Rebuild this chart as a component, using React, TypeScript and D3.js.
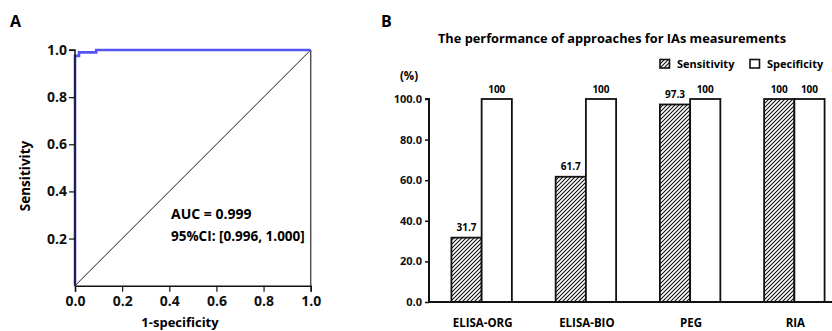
import React, { useRef, useEffect } from 'react';
import * as d3 from 'd3';

// Panel A: ROC curve (step points)
const rocFpr = [0, 0, 0.017, 0.017, 0.09, 0.09, 1];
const rocTpr = [0, 0.975, 0.975, 0.99, 0.99, 1, 1];
const rocXTicks = [0, 0.2, 0.4, 0.6, 0.8, 1.0];
const rocYTicks = [0.2, 0.4, 0.6, 0.8, 1.0];
const aucText = 'AUC = 0.999';
const ciText = '95%CI: [0.996, 1.000]';

// Panel B: performance of approaches
const methods = ['ELISA-ORG', 'ELISA-BIO', 'PEG', 'RIA'];
const sensitivity = [31.7, 61.7, 97.3, 100];
const specificity = [100, 100, 100, 100];
const barTicks = [0, 20, 40, 60, 80, 100];
const seriesNames = ['Sensitivity', 'Specificity'];

const FONT = "'Open Sans', 'DejaVu Sans', sans-serif";

const App = () => {
  const svgRef = useRef<SVGSVGElement>(null);

  useEffect(() => {
    const svg = d3.select(svgRef.current);
    svg.selectAll('*').remove();
    svg.style('font-family', FONT).style('font-weight', 700);

    // hatch pattern
    const defs = svg.append('defs');
    defs.append('pattern')
      .attr('id', 'hatch')
      .attr('patternUnits', 'userSpaceOnUse')
      .attr('width', 4)
      .attr('height', 4)
      .append('path')
      .attr('d', 'M-1,1 l2,-2 M0,4 l4,-4 M3,5 l2,-2')
      .attr('stroke', '#111')
      .attr('stroke-width', 1.1);

    // ---------- Panel A ----------
    const x = d3.scaleLinear().domain([0, 1]).range([75, 310.7]);
    const y = d3.scaleLinear().domain([0, 1]).range([285.7, 50]);

    svg.append('text').attr('x', 10).attr('y', 27).style('font-size', '16px').text('A');

    // right frame
    svg.append('line')
      .attr('x1', x(1)).attr('x2', x(1)).attr('y1', y(0)).attr('y2', y(1))
      .attr('stroke', '#555').attr('stroke-width', 1.5);

    // diagonal
    svg.append('line')
      .attr('x1', x(0)).attr('y1', y(0)).attr('x2', x(1)).attr('y2', y(1))
      .attr('stroke', '#222').attr('stroke-width', 1);

    const rocPts = rocFpr.map((f, i) => [f, rocTpr[i]] as [number, number]);
    const rocLine = d3.line<[number, number]>().x(d => x(d[0])).y(d => y(d[1]));
    svg.append('path')
      .attr('d', rocLine(rocPts))
      .attr('fill', 'none')
      .attr('stroke', '#5454f2')
      .attr('stroke-width', 2.6);

    const gxA = svg.append('g')
      .attr('transform', `translate(0,${y(0)})`)
      .call(d3.axisBottom(x).tickValues(rocXTicks).tickFormat(d3.format('.1f')).tickSize(6).tickPadding(4));
    const gyA = svg.append('g')
      .attr('transform', `translate(${x(0)},0)`)
      .call(d3.axisLeft(y).tickValues(rocYTicks).tickFormat(d3.format('.1f')).tickSize(6).tickPadding(2));
    [gxA, gyA].forEach(g => {
      g.select('.domain').attr('stroke', '#111').attr('stroke-width', 1.5);
      g.selectAll('.tick line').attr('stroke', '#111').attr('stroke-width', 1.2);
      g.selectAll('.tick text')
        .attr('fill', '#111')
        .style('font-family', FONT)
        .style('font-weight', 700)
        .style('font-size', '14px');
    });
    gyA.select('.domain').attr('d', `M-6,${y(1)}H0V${y(0)}`);

    svg.append('text')
      .attr('transform', 'translate(30,176) rotate(-90)')
      .attr('text-anchor', 'middle')
      .style('font-size', '13.5px')
      .text('Sensitivity');
    svg.append('text')
      .attr('x', 180).attr('y', 327)
      .attr('text-anchor', 'middle')
      .style('font-size', '13px')
      .text('1-specificity');

    svg.append('text').attr('x', 171).attr('y', 218.5).style('font-size', '14px').text(aucText);
    svg.append('text').attr('x', 171).attr('y', 240.7).style('font-size', '13.5px').text(ciText);

    // ---------- Panel B ----------
    svg.append('text').attr('x', 381).attr('y', 27).style('font-size', '16px').text('B');
    svg.append('text')
      .attr('x', 612).attr('y', 43.3)
      .attr('text-anchor', 'middle')
      .style('font-size', '12.8px')
      .text('The performance of approaches for IAs measurements');

    const bx = d3.scaleBand<string>().domain(methods).range([429, 847]).paddingInner(0.42).paddingOuter(0.215);
    const sub = d3.scaleBand<string>().domain(seriesNames).range([0, bx.bandwidth()]);
    const by = d3.scaleLinear().domain([0, 100]).range([302, 99]);

    const seriesValues = [sensitivity, specificity];
    const rows = methods.flatMap((m, i) =>
      seriesNames.map((s, j) => ({ m, s, v: seriesValues[j][i] }))
    );

    const bars = svg.append('g');
    bars.selectAll('rect')
      .data(rows)
      .enter().append('rect')
      .attr('x', d => (bx(d.m) as number) + (sub(d.s) as number))
      .attr('y', d => by(d.v))
      .attr('width', sub.bandwidth())
      .attr('height', d => by(0) - by(d.v))
      .attr('fill', d => (d.s === 'Sensitivity' ? 'url(#hatch)' : '#fff'))
      .attr('stroke', '#111')
      .attr('stroke-width', 1.8);

    bars.selectAll('text')
      .data(rows)
      .enter().append('text')
      .attr('x', d => (bx(d.m) as number) + (sub(d.s) as number) + sub.bandwidth() / 2)
      .attr('y', d => by(d.v) - 6.5)
      .attr('text-anchor', 'middle')
      .style('font-size', '10px')
      .text(d => String(d.v));

    const gyB = svg.append('g')
      .attr('transform', 'translate(429,0)')
      .call(d3.axisLeft(by).tickValues(barTicks).tickFormat(d3.format('.1f')).tickSize(4).tickPadding(3));
    gyB.select('.domain').attr('stroke', '#111').attr('stroke-width', 2).attr('d', `M-4,${by(100)}H0V${by(0)}`);
    gyB.selectAll('.tick line').attr('stroke', '#111').attr('stroke-width', 1.5);
    gyB.selectAll('.tick text')
      .attr('fill', '#111')
      .style('font-family', FONT)
      .style('font-weight', 700)
      .style('font-size', '11px');

    svg.append('line')
      .attr('x1', 428).attr('x2', 847).attr('y1', by(0)).attr('y2', by(0))
      .attr('stroke', '#111').attr('stroke-width', 2.2);

    svg.append('g').selectAll('text')
      .data(methods)
      .enter().append('text')
      .attr('x', d => (bx(d) as number) + bx.bandwidth() / 2 + 1)
      .attr('y', 327)
      .attr('text-anchor', 'middle')
      .style('font-size', '11.5px')
      .text(d => d);

    svg.append('text')
      .attr('x', 409).attr('y', 80)
      .attr('text-anchor', 'middle')
      .style('font-size', '11.5px')
      .text('(%)');

    // legend
    const legendX = [660, 750];
    const legend = svg.append('g');
    seriesNames.forEach((s, i) => {
      legend.append('rect')
        .attr('x', legendX[i]).attr('y', 59.5)
        .attr('width', 9.5).attr('height', 8.5)
        .attr('fill', i === 0 ? 'url(#hatch)' : '#fff')
        .attr('stroke', '#111').attr('stroke-width', 1.6);
      legend.append('text')
        .attr('x', legendX[i] + 17).attr('y', 68)
        .style('font-size', '11px')
        .text(s);
    });
  }, []);

  return (
    <svg
      ref={svgRef}
      width={832}
      height={331}
      style={{ position: 'absolute', left: 0, top: 0, background: '#fff' }}
    ></svg>
  );
};

export default App;
